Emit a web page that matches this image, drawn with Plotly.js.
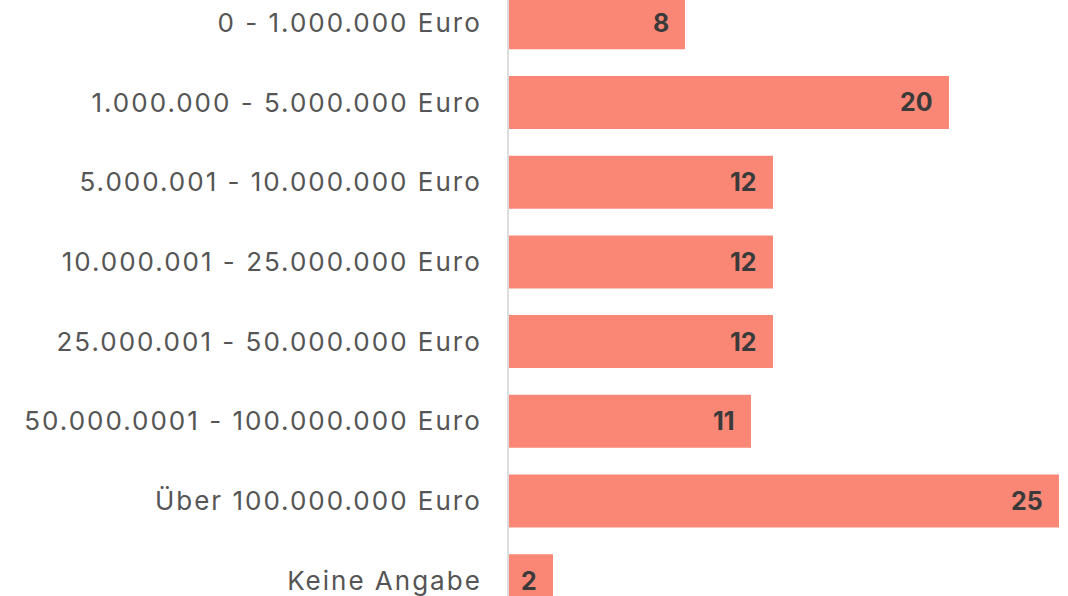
<!DOCTYPE html>
<html>
<head>
<meta charset="utf-8">
<script src="https://cdn.plot.ly/plotly-3.0.1.min.js"></script>
<style>
html,body{margin:0;padding:0;background:#fff;}
#chart{width:1068px;height:596px;}
#chart .ytick text{letter-spacing:2px;}
</style>
</head>
<body>
<div id="chart"></div>
<script>
const categories = [
  "0 - 1.000.000 Euro",
  "1.000.000 - 5.000.000 Euro",
  "5.000.001 - 10.000.000 Euro",
  "10.000.001 - 25.000.000 Euro",
  "25.000.001 - 50.000.000 Euro",
  "50.000.0001 - 100.000.000 Euro",
  "Über 100.000.000 Euro",
  "Keine Angabe"
];
const values = [8, 20, 12, 12, 12, 11, 25, 2];

const barColor = "#FA8775";
const labelColor = "#3a3a3a";

const trace = {
  type: "bar",
  orientation: "h",
  x: values,
  y: categories,
  marker: {color: barColor, line: {width: 0}},
  hoverinfo: "none"
};

const annotations = values.map((v, i) => ({
  x: v,
  y: categories[i],
  xref: "x",
  yref: "y",
  text: "<b>" + v + "</b>",
  showarrow: false,
  xanchor: "right",
  yanchor: "middle",
  xshift: -14,
  font: {family: "Inter, 'Open Sans', sans-serif", size: 25, color: labelColor}
}));

const layout = {
  width: 1068,
  height: 596,
  margin: {l: 509, r: 0, t: 0, b: 0, pad: 0},
  paper_bgcolor: "#ffffff",
  plot_bgcolor: "#ffffff",
  bargap: 0.335,
  showlegend: false,
  xaxis: {
    range: [0, 25.41],
    showgrid: false,
    zeroline: false,
    showticklabels: false,
    showline: false,
    fixedrange: true
  },
  yaxis: {
    type: "category",
    range: [7.192, -0.286],
    showgrid: false,
    zeroline: false,
    showline: true,
    linecolor: "#dddddd",
    linewidth: 2,
    ticks: "",
    ticklabelstandoff: 20,
    tickfont: {family: "Inter, 'Open Sans', sans-serif", size: 26, color: "#555555"},
    fixedrange: true
  },
  annotations: annotations,
  font: {family: "Inter, sans-serif"}
};

Plotly.newPlot("chart", [trace], layout, {displayModeBar: false, staticPlot: true});
</script>
</body>
</html>
